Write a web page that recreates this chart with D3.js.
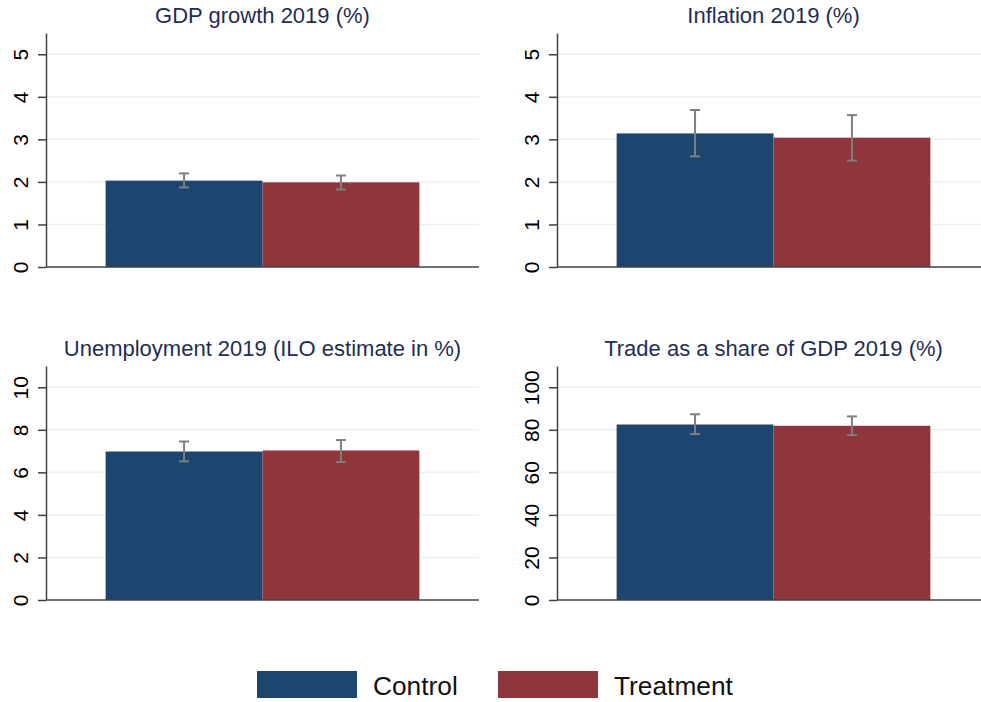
<!DOCTYPE html>
<html>
<head>
<meta charset="utf-8">
<script src="https://cdn.jsdelivr.net/npm/d3@7"></script>
<style>
  body { margin: 0; background: #fff; }
  svg { display: block; font-family: "Liberation Sans", Arial, sans-serif; }
</style>
</head>
<body>
<div id="chart"></div>
<script>
// values
var titles = [
  "GDP growth 2019 (%)",
  "Inflation 2019 (%)",
  "Unemployment 2019 (ILO estimate in %)",
  "Trade as a share of GDP 2019 (%)"
];
var groups = ["Control", "Treatment"];
var control_mean = [2.03, 3.14, 6.98, 82.5];
var control_lo = [1.87, 2.6, 6.52, 78.0];
var control_hi = [2.2, 3.69, 7.45, 87.3];
var treatment_mean = [1.99, 3.04, 7.03, 81.9];
var treatment_lo = [1.82, 2.5, 6.49, 77.5];
var treatment_hi = [2.15, 3.57, 7.52, 86.3];
var y_ticks = [
  [0, 1, 2, 3, 4, 5],
  [0, 1, 2, 3, 4, 5],
  [0, 2, 4, 6, 8, 10],
  [0, 20, 40, 60, 80, 100]
];
var y_max = [5.5, 5.5, 11, 110];

var colors = { Control: "#1c466f", Treatment: "#8f353c" };
var width = 981, height = 702;

// panel frames (plot area only)
var col_left = [46, 557], plot_w = 433;
var row_bottom = [267, 600], plot_h = 234;

var svg = d3
  .select("#chart")
  .append("svg")
  .attr("width", width)
  .attr("height", height)
  .attr("viewBox", [0, 0, width, height]);

titles.forEach(function (title, i) {
  var left = col_left[i % 2],
    bottom = row_bottom[Math.floor(i / 2)],
    right = left + plot_w,
    top = bottom - plot_h;

  var x = d3
    .scaleBand()
    .domain(groups)
    .range([left, right])
    .paddingInner(0)
    .paddingOuter(0.38);

  var y = d3.scaleLinear().domain([0, y_max[i]]).range([bottom, top]);

  var rows = [
    { g: "Control", v: control_mean[i], lo: control_lo[i], hi: control_hi[i] },
    { g: "Treatment", v: treatment_mean[i], lo: treatment_lo[i], hi: treatment_hi[i] }
  ];

  var panel = svg.append("g");

  // gridlines
  panel
    .selectAll(".grid")
    .data(y_ticks[i].filter((t) => t > 0))
    .enter()
    .append("line")
    .attr("x1", left)
    .attr("x2", right)
    .attr("y1", (d) => y(d))
    .attr("y2", (d) => y(d))
    .attr("stroke", "#eaf1f3")
    .attr("stroke-width", 1.5);

  // bars
  panel
    .selectAll(".bar")
    .data(rows)
    .enter()
    .append("rect")
    .attr("x", (d) => x(d.g))
    .attr("y", (d) => y(d.v))
    .attr("width", x.bandwidth())
    .attr("height", (d) => y(0) - y(d.v))
    .attr("fill", (d) => colors[d.g]);

  // error bars
  var cap = 5;
  var eb = panel
    .selectAll(".err")
    .data(rows)
    .enter()
    .append("g")
    .attr("stroke", "#7f7f7f")
    .attr("stroke-width", 2);
  eb.append("line")
    .attr("x1", (d) => x(d.g) + x.bandwidth() / 2)
    .attr("x2", (d) => x(d.g) + x.bandwidth() / 2)
    .attr("y1", (d) => y(d.lo))
    .attr("y2", (d) => y(d.hi));
  eb.append("line")
    .attr("x1", (d) => x(d.g) + x.bandwidth() / 2 - cap)
    .attr("x2", (d) => x(d.g) + x.bandwidth() / 2 + cap)
    .attr("y1", (d) => y(d.hi))
    .attr("y2", (d) => y(d.hi));
  eb.append("line")
    .attr("x1", (d) => x(d.g) + x.bandwidth() / 2 - cap)
    .attr("x2", (d) => x(d.g) + x.bandwidth() / 2 + cap)
    .attr("y1", (d) => y(d.lo))
    .attr("y2", (d) => y(d.lo));

  // y axis
  var y_axis = panel
    .append("g")
    .attr("transform", "translate(" + left + ",0)")
    .call(
      d3
        .axisLeft(y)
        .tickValues(y_ticks[i])
        .tickFormat(d3.format("d"))
        .tickSize(8)
        .tickSizeOuter(0)
    );
  y_axis.select(".domain").attr("stroke", "#404040").attr("stroke-width", 1.5);
  y_axis.selectAll(".tick line").attr("stroke", "#404040").attr("stroke-width", 1.5);
  y_axis
    .selectAll(".tick text")
    .attr("transform", "rotate(-90)")
    .attr("x", 0)
    .attr("y", -18)
    .attr("dy", 0)
    .attr("text-anchor", "middle")
    .attr("font-size", "21px")
    .attr("font-family", "Liberation Sans, Arial, sans-serif")
    .attr("fill", "#000");

  // x axis baseline
  panel
    .append("line")
    .attr("x1", left)
    .attr("x2", right)
    .attr("y1", y(0))
    .attr("y2", y(0))
    .attr("stroke", "#404040")
    .attr("stroke-width", 1.5);

  // title
  panel
    .append("text")
    .attr("x", (left + right) / 2)
    .attr("y", top - 10)
    .attr("text-anchor", "middle")
    .attr("font-size", "22px")
    .attr("fill", "#1f2d55")
    .text(title);
});

// legend
var legend = [
  { g: "Control", x: 257 },
  { g: "Treatment", x: 498 }
];
var lg = svg
  .selectAll(".legend")
  .data(legend)
  .enter()
  .append("g");
lg.append("rect")
  .attr("x", (d) => d.x)
  .attr("y", 671)
  .attr("width", 100)
  .attr("height", 27)
  .attr("fill", (d) => colors[d.g]);
lg.append("text")
  .attr("x", (d) => d.x + 116)
  .attr("y", 695)
  .attr("font-size", "26.3px")
  .attr("fill", "#111")
  .text((d) => d.g);
</script>
</body>
</html>
